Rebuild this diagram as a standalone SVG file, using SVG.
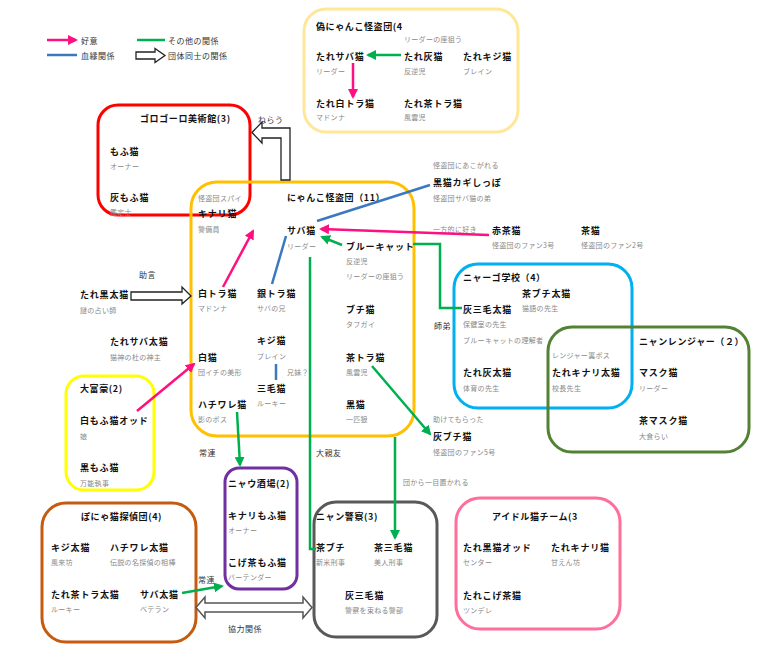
<svg xmlns="http://www.w3.org/2000/svg" width="765" height="651" viewBox="0 0 765 651">
<defs>
<style>
text{font-family:"Noto Sans CJK JP","Noto Sans",sans-serif;dominant-baseline:central}
.n{font-size:9px;font-weight:bold;fill:#111;letter-spacing:0.8px}
.s{font-size:7px;fill:#888;letter-spacing:0.3px}
.t{font-size:9px;font-weight:bold;fill:#111;letter-spacing:0.6px}
.l{font-size:8px;fill:#333;letter-spacing:0.5px}
.box{fill:none;stroke-width:3}
.pk{stroke:#FF0F80;stroke-width:2.5;fill:none}
.gr{stroke:#00B050;stroke-width:2.5;fill:none}
.bl{stroke:#3A78C0;stroke-width:2.5;fill:none}
.blk{fill:#fff;stroke:#222;stroke-width:1.3}
</style>
<marker id="ap" viewBox="0 0 10 10" refX="8" refY="5" markerWidth="4" markerHeight="4" orient="auto"><path d="M0,0L10,5L0,10z" fill="#FF0F80"/></marker>
<marker id="ag" viewBox="0 0 10 10" refX="8" refY="5" markerWidth="4" markerHeight="4" orient="auto"><path d="M0,0L10,5L0,10z" fill="#00B050"/></marker>
</defs>
<rect width="765" height="651" fill="#fff"/>

<g id="legend">
<line x1="47" y1="40" x2="76" y2="40" class="pk" marker-end="url(#ap)"/>
<text x="81" y="40" class="l">好意</text>
<line x1="47" y1="55" x2="77" y2="55" class="bl"/>
<text x="81" y="55" class="l">血縁関係</text>
<line x1="137" y1="40" x2="165" y2="40" class="gr"/>
<text x="168" y="40" class="l">その他の関係</text>
<path d="M136,52H155V48.5L165,55.5L155,62.5V59H136Z" class="blk"/>
<text x="168" y="55" class="l">団体同士の関係</text>
</g>

<g id="nise">
<rect x="304" y="9" width="214" height="123" rx="22" class="box" stroke="#FFE699"/>
<text x="316" y="26" class="t">偽にゃんこ怪盗団(4</text>
<text x="404" y="39" class="s">リーダーの座狙う</text>
<text x="316" y="56" class="n">たれサバ猫</text><text x="316" y="71" class="s">リーダー</text>
<text x="404" y="56" class="n">たれ灰猫</text><text x="404" y="71" class="s">反逆児</text>
<text x="463" y="56" class="n">たれキジ猫</text><text x="463" y="71" class="s">ブレイン</text>
<text x="316" y="103" class="n">たれ白トラ猫</text><text x="316" y="117" class="s">マドンナ</text>
<text x="404" y="103" class="n">たれ茶トラ猫</text><text x="404" y="117" class="s">風雲児</text>
</g>

<g id="gorogoro">
<rect x="98" y="105" width="152" height="110" rx="20" class="box" stroke="#FF0000"/>
<text x="140" y="118" class="t">ゴロゴーロ美術館(3)</text>
<text x="110" y="151" class="n">もふ猫</text><text x="110" y="166" class="s">オーナー</text>
<text x="110" y="197" class="n">灰もふ猫</text><text x="110" y="212" class="s">鑑定士</text>
</g>

<g id="nyanko">
<rect x="191" y="182" width="223" height="254" rx="26" class="box" stroke="#FFC000"/>
<text x="287" y="197" class="t">にゃんこ怪盗団（11）</text>
<text x="198" y="198" class="s">怪盗団スパイ</text>
<text x="198" y="213" class="n">キナリ猫</text><text x="198" y="229" class="s">警備員</text>
<text x="287" y="230" class="n">サバ猫</text><text x="287" y="246" class="s">リーダー</text>
<text x="346" y="246" class="n">ブルーキャット</text><text x="346" y="261" class="s">反逆児</text><text x="346" y="276" class="s">リーダーの座狙う</text>
<text x="198" y="293" class="n">白トラ猫</text><text x="198" y="308" class="s">マドンナ</text>
<text x="257" y="293" class="n">銀トラ猫</text><text x="257" y="308" class="s">サバの兄</text>
<text x="346" y="309" class="n">ブチ猫</text><text x="346" y="324" class="s">タフガイ</text>
<text x="257" y="340" class="n">キジ猫</text><text x="257" y="356" class="s">ブレイン</text>
<text x="198" y="357" class="n">白猫</text><text x="198" y="372" class="s">団イチの美形</text>
<text x="287" y="372" class="s">兄妹？</text>
<text x="346" y="357" class="n">茶トラ猫</text><text x="346" y="372" class="s">風雲児</text>
<text x="257" y="388" class="n">三毛猫</text><text x="257" y="403" class="s">ルーキー</text>
<text x="198" y="404" class="n">ハチワレ猫</text><text x="198" y="419" class="s">影のボス</text>
<text x="346" y="404" class="n">黒猫</text><text x="346" y="419" class="s">一匹狼</text>
</g>

<g id="kurokagi">
<text x="433" y="165" class="s">怪盗団にあこがれる</text>
<text x="433" y="182" class="n">黒猫カギしっぽ</text><text x="433" y="198" class="s">怪盗団サバ猫の弟</text>
</g>
<g id="akacha"><text x="492" y="230" class="n">赤茶猫</text><text x="492" y="245" class="s">怪盗団のファン3号</text></g>
<g id="chaneko"><text x="581" y="230" class="n">茶猫</text><text x="581" y="245" class="s">怪盗団のファン2号</text></g>
<g id="tarekuro"><text x="80" y="294" class="n">たれ黒太猫</text><text x="80" y="310" class="s">謎の占い師</text></g>
<g id="taresaba"><text x="110" y="341" class="n">たれサバ太猫</text><text x="110" y="357" class="s">猫神の杜の神主</text></g>
<g id="haibuchi"><text x="433" y="419" class="s">助けてもらった</text><text x="433" y="436" class="n">灰ブチ猫</text><text x="433" y="452" class="s">怪盗団のファン5号</text></g>

<g id="nyago">
<rect x="454" y="264" width="178" height="144" rx="24" class="box" stroke="#00B0F0"/>
<text x="463" y="277" class="t">ニャーゴ学校（4）</text>
<text x="522" y="293" class="n">茶ブチ太猫</text><text x="522" y="308" class="s">猫語の先生</text>
<text x="463" y="309" class="n">灰三毛太猫</text><text x="463" y="324" class="s">保健室の先生</text><text x="463" y="340" class="s">ブルーキャットの理解者</text>
<text x="463" y="372" class="n">たれ灰太猫</text><text x="463" y="388" class="s">体育の先生</text>
</g>

<g id="ranger">
<rect x="548" y="327" width="201" height="125" rx="24" class="box" stroke="#548235"/>
<text x="639" y="341" class="t">ニャンレンジャー（２）</text>
<text x="552" y="355" class="s">レンジャー裏ボス</text>
<text x="552" y="372" class="n">たれキナリ太猫</text><text x="552" y="388" class="s">校長先生</text>
<text x="639" y="372" class="n">マスク猫</text><text x="639" y="388" class="s">リーダー</text>
<text x="639" y="420" class="n">茶マスク猫</text><text x="639" y="436" class="s">大食らい</text>
</g>

<g id="daifugo">
<rect x="66" y="376" width="88" height="114" rx="18" class="box" stroke="#FFFF00"/>
<text x="80" y="388" class="t">大富豪(2)</text>
<text x="80" y="420" class="n">白もふ猫オッド</text><text x="80" y="436" class="s">娘</text>
<text x="80" y="467" class="n">黒もふ猫</text><text x="80" y="483" class="s">万能執事</text>
</g>

<g id="nyau">
<rect x="225" y="468" width="72" height="121" rx="14" class="box" stroke="#7030A0"/>
<text x="228" y="483" class="t">ニャウ酒場(2)</text>
<text x="228" y="515" class="n">キナリもふ猫</text><text x="228" y="530" class="s">オーナー</text>
<text x="228" y="562" class="n">こげ茶もふ猫</text><text x="228" y="577" class="s">バーテンダー</text>
</g>

<g id="ponya">
<rect x="42" y="503" width="154" height="139" rx="24" class="box" stroke="#C55A11"/>
<text x="81" y="516" class="t">ぽにゃ猫探偵団(4)</text>
<text x="51" y="547" class="n">キジ太猫</text><text x="51" y="562" class="s">風来坊</text>
<text x="110" y="547" class="n">ハチワレ太猫</text><text x="110" y="562" class="s">伝説の名探偵の相棒</text>
<text x="51" y="594" class="n">たれ茶トラ太猫</text><text x="51" y="609" class="s">ルーキー</text>
<text x="140" y="594" class="n">サバ太猫</text><text x="140" y="609" class="s">ベテラン</text>
</g>

<g id="police">
<rect x="314" y="502" width="123" height="135" rx="22" class="box" stroke="#595959"/>
<text x="316" y="516" class="t">ニャン警察(3)</text>
<text x="316" y="547" class="n">茶ブチ</text><text x="316" y="562" class="s">新米刑事</text>
<text x="374" y="547" class="n">茶三毛猫</text><text x="374" y="562" class="s">美人刑事</text>
<text x="345" y="595" class="n">灰三毛猫</text><text x="345" y="610" class="s">警察を束ねる警部</text>
</g>

<g id="idol">
<rect x="456" y="498" width="164" height="131" rx="24" class="box" stroke="#FF6F9C"/>
<text x="492" y="516" class="t">アイドル猫チーム(3</text>
<text x="463" y="547" class="n">たれ黒猫オッド</text><text x="463" y="562" class="s">センター</text>
<text x="551" y="547" class="n">たれキナリ猫</text><text x="551" y="562" class="s">甘えん坊</text>
<text x="463" y="595" class="n">たれこげ茶猫</text><text x="463" y="610" class="s">ツンデレ</text>
</g>

<g id="connectors">
<line x1="401" y1="55" x2="368" y2="55" class="gr" marker-end="url(#ag)"/>
<line x1="353" y1="63" x2="353" y2="97" class="pk" marker-end="url(#ap)"/>
<path d="M290,180V128H262V122L252,132.5L262,143V138H281V180Z" class="blk"/>
<text x="258" y="119" class="l">ねらう</text>
<line x1="317" y1="221" x2="430" y2="185" class="bl"/>
<text x="433" y="229" class="s">一方的に好き</text>
<line x1="489" y1="235" x2="321" y2="229" class="pk" marker-end="url(#ap)"/>
<line x1="342" y1="245" x2="322" y2="237" class="gr" marker-end="url(#ag)"/>
<path d="M413,244H440V308H462" class="gr"/>
<text x="434" y="325" class="l">師弟</text>
<line x1="223" y1="287" x2="253" y2="231" class="pk" marker-end="url(#ap)"/>
<line x1="286" y1="236" x2="272" y2="284" class="bl"/>
<line x1="276" y1="364" x2="276" y2="380" class="bl"/>
<text x="139" y="274" class="l">助言</text>
<path d="M131,292H182V287L191,296L182,304V300H131Z" class="blk"/>
<line x1="137" y1="411" x2="194" y2="364" class="pk" marker-end="url(#ap)"/>
<path d="M310,257V549H316" class="gr"/>
<text x="316" y="452" class="l">大親友</text>
<line x1="372" y1="366" x2="430" y2="434" class="gr" marker-end="url(#ag)"/>
<line x1="395" y1="437" x2="395" y2="538" class="gr" marker-end="url(#ag)"/>
<text x="403" y="482" class="s">団から一目置かれる</text>
<line x1="237" y1="412" x2="240" y2="465" class="gr" marker-end="url(#ag)"/>
<text x="199" y="452" class="l">常連</text>
<line x1="182" y1="593" x2="222" y2="586" class="gr" marker-end="url(#ag)"/>
<text x="198" y="579" class="l">常連</text>
<path d="M196,607.5L205,597V603H303V597L312,607.5L303,618V612H205V618Z" fill="#fff" stroke="#555" stroke-width="1.5"/>
<text x="228" y="628" class="l">協力関係</text>
</g>
</svg>
